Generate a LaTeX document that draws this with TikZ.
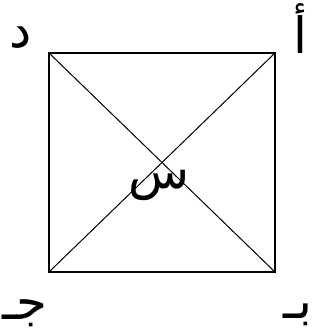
\documentclass[tikz,border=0pt]{standalone}
\usepackage{fontspec}
\newfontfamily\arabicfont[Script=Arabic]{DejaVu Sans}
\TeXXeTstate=1
\usepackage{tikz}
\usetikzlibrary{positioning}

\begin{document}
\begin{tikzpicture}[x=1pt,y=-1pt,
		lbl/.style={font=\arabicfont\fontsize{50}{60}\selectfont,inner sep=0pt}]
	
	\useasboundingbox (0,0) rectangle (323,336);
	
	\coordinate (A) at (275,53);
	\coordinate (B) at (275,272);
	\coordinate (C) at (49,272);
	\coordinate (D) at (49,53);
	
	\node[lbl] (a) at (300,29) {\beginR أ\endR};
	\node[lbl] (d) at (21,38) {\beginR د\endR};
	\node[lbl] (c) at (25,313) {\beginR جـ\endR};
	\node[lbl] (b) at (298,315) {\beginR بـ\endR};
	\node[lbl] (s) at (159,185) {\beginR س\endR};
	
	\draw[line width=1.3pt] (D) -- (A) -- (B) -- (C) -- cycle;
	\draw[line width=1pt] (A) -- (C);
	\draw[line width=1pt] (D) -- (B);
	
\end{tikzpicture}
\end{document}
